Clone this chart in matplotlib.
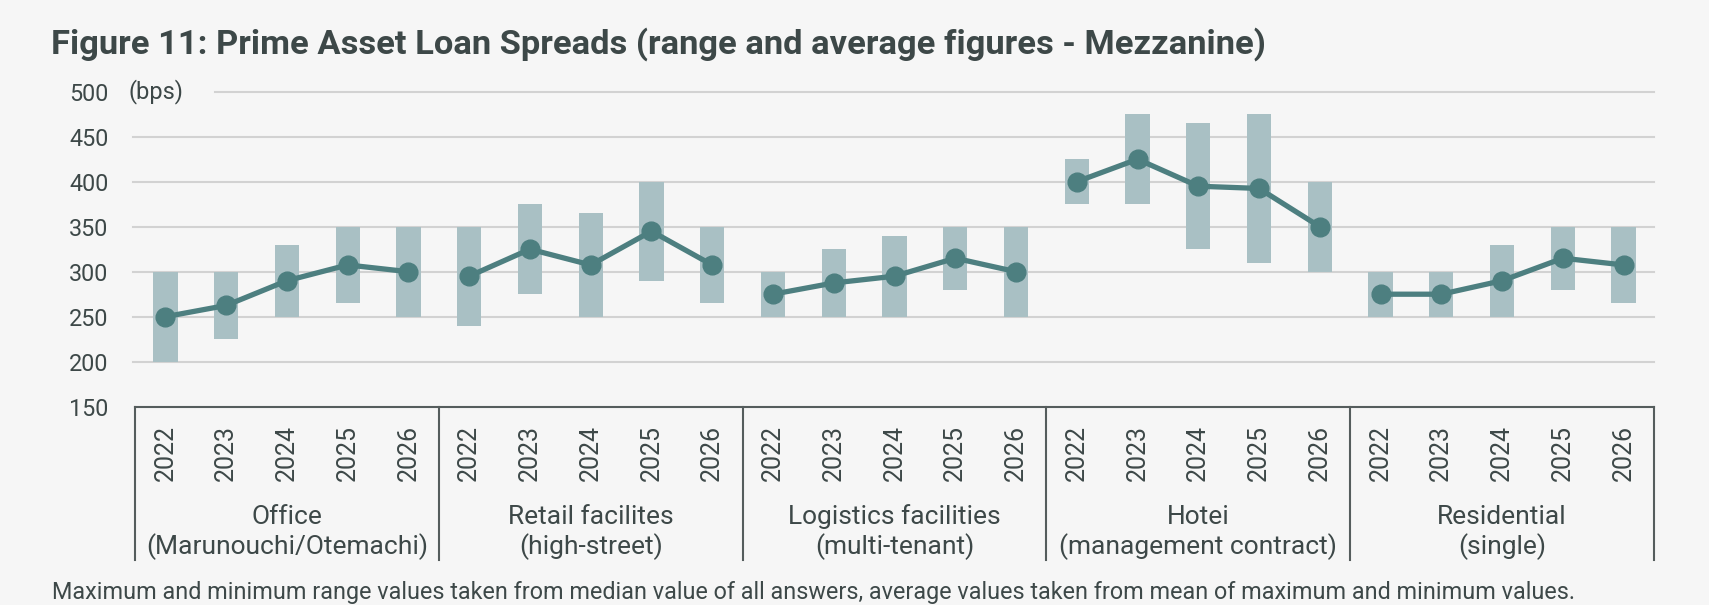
import matplotlib
matplotlib.use("Agg")
import matplotlib.pyplot as plt
from matplotlib.lines import Line2D
import matplotlib.transforms as mtransforms

plt.rcParams['font.family'] = ['Roboto', 'DejaVu Sans']

# ---------------- data ----------------
years = ["2022", "2023", "2024", "2025", "2026"]
groups = ["Office\n(Marunouchi/Otemachi)", "Retail facilites\n(high-street)",
          "Logistics facilities\n(multi-tenant)", "Hotei\n(management contract)",
          "Residential\n(single)"]

office_min = [200, 225, 250, 265, 250]
office_max = [300, 300, 330, 350, 350]
office_avg = [250, 262.5, 290, 307.5, 300]

retail_min = [240, 275, 250, 290, 265]
retail_max = [350, 375, 365, 400, 350]
retail_avg = [295, 325, 307.5, 345, 307.5]

logistics_min = [250, 250, 250, 280, 250]
logistics_max = [300, 325, 340, 350, 350]
logistics_avg = [275, 287.5, 295, 315, 300]

hotel_min = [375, 375, 325, 310, 300]
hotel_max = [425, 475, 465, 475, 400]
hotel_avg = [400, 425, 395, 392.5, 350]

resid_min = [250, 250, 250, 280, 265]
resid_max = [300, 300, 330, 350, 350]
resid_avg = [275, 275, 290, 315, 307.5]

y_ticks = [150, 200, 250, 300, 350, 400, 450, 500]

mins = [office_min, retail_min, logistics_min, hotel_min, resid_min]
maxs = [office_max, retail_max, logistics_max, hotel_max, resid_max]
avgs = [office_avg, retail_avg, logistics_avg, hotel_avg, resid_avg]

# ---------------- style ----------------
BG = "#f6f6f6"
BAR = "#a9c0c4"
LINE = "#4d7f80"
TEXT = "#3d4848"
GRID = "#d2d2d2"
AXIS = "#555d5d"

W, H = 1709, 605
fig = plt.figure(figsize=(W / 100, H / 100), dpi=100, facecolor=BG)
ax = fig.add_axes([135 / W, 1 - 406.7 / H, 1519 / W, 315 / H])
ax.set_facecolor(BG)

n = len(years)
for g in range(len(groups)):
    xs = [g * n + i for i in range(n)]
    heights = [mx - mn for mx, mn in zip(maxs[g], mins[g])]
    ax.bar(xs, heights, bottom=mins[g], width=0.4, color=BAR, zorder=2)
    ax.plot(xs, avgs[g], color=LINE, lw=3.8, marker='o', ms=13.5,
            zorder=3, clip_on=False, solid_capstyle='round')

ax.set_xlim(-0.5, len(groups) * n - 0.5)
ax.set_ylim(150, 500)

# gridlines
for yv in y_ticks[1:]:
    xmin = (215 - 135) / 1519 if yv == 500 else -2 / 1519
    ax.axhline(yv, xmin=xmin, xmax=1.0, color=GRID, lw=1.5, zorder=1, clip_on=False)

for s in ['top', 'right', 'left']:
    ax.spines[s].set_visible(False)
ax.spines['bottom'].set_color(AXIS)
ax.spines['bottom'].set_linewidth(1.5)
ax.spines['bottom'].set_zorder(4)

ax.set_yticks(y_ticks)
ax.set_yticklabels([str(v) for v in y_ticks])
ax.tick_params(axis='y', length=0, pad=19, labelsize=16.8, labelcolor=TEXT)

xt = list(range(len(groups) * n))
ax.set_xticks(xt)
ax.set_xticklabels(years * len(groups), rotation=90)
ax.tick_params(axis='x', length=0, pad=13, labelsize=18, labelcolor=TEXT)

# group separators
trans = mtransforms.blended_transform_factory(ax.transData, ax.transAxes)
drop = (560 - 406.7) / 315
for g in range(len(groups) + 1):
    xv = g * n - 0.5
    ax.add_line(Line2D([xv, xv], [0, -drop], transform=trans, color=AXIS,
                       lw=1.5, clip_on=False))
for g, name in enumerate(groups):
    ax.text(g * n + (n - 1) / 2, -(532.5 - 406.7) / 315, name, transform=trans,
            ha='center', va='center', fontsize=19, color=TEXT, linespacing=1.2)

# (bps) unit label
ax.text(128 / W, 1 - 91.7 / H, "(bps)", transform=fig.transFigure,
        ha='left', va='center', fontsize=17, color=TEXT)

fig.text(51 / W, 1 - 53.3 / H,
         "Figure 11: Prime Asset Loan Spreads (range and average figures - Mezzanine)",
         ha='left', va='baseline', fontsize=24.8, fontweight='bold', color=TEXT)
fig.text(52 / W, 1 - 593 / H,
         "Maximum and minimum range values taken from median value of all answers, "
         "average values taken from mean of maximum and minimum values.",
         ha='left', va='center', fontsize=16.85, color=TEXT)

fig.savefig("out.png", dpi=100, facecolor=BG)
